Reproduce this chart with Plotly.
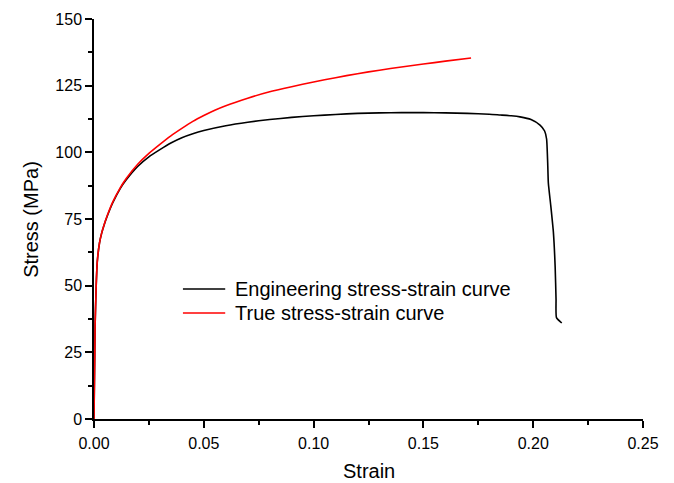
import plotly.graph_objects as go

# Engineering stress-strain curve
eng_strain = [0.0, 0.0005, 0.001, 0.0015, 0.0025, 0.0035, 0.0045, 0.006, 0.0085, 0.012, 0.0146,
              0.02, 0.025, 0.03, 0.035, 0.04, 0.045, 0.05,
              0.06, 0.07, 0.08, 0.09, 0.10, 0.11, 0.12, 0.13, 0.14, 0.15, 0.16, 0.17,
              0.18, 0.185, 0.19, 0.194, 0.199, 0.2031, 0.2052, 0.2061, 0.2066, 0.2069,
              0.2080, 0.2092, 0.2100, 0.2104, 0.2106, 0.2130]
eng_stress = [0.0, 35, 50, 59, 66, 69.7, 72.5, 76, 81, 86.5, 89.6,
              94.8, 98.3, 101, 103.5, 105.5, 107, 108.2,
              110, 111.3, 112.3, 113.1, 113.7, 114.2, 114.6, 114.8, 114.9, 114.9, 114.8, 114.6,
              114.3, 114.0, 113.7, 113.3, 112.3, 110.2, 108, 105, 96, 88.5,
              80, 70, 57, 45, 38, 36]

# True stress-strain curve
true_strain = [0.0, 0.0005, 0.001, 0.0015, 0.0025, 0.0035, 0.0045, 0.006, 0.0085, 0.012, 0.0146,
               0.02, 0.025, 0.03, 0.035, 0.04, 0.045, 0.05, 0.055,
               0.06, 0.07, 0.08, 0.09, 0.10, 0.11, 0.12, 0.13, 0.14, 0.15, 0.16, 0.1717]
true_stress = [0.0, 35, 50, 59, 66, 69.8, 72.6, 76.2, 81.3, 86.8, 90.1,
               95.6, 99.6, 103, 106.2, 109, 111.6, 113.8, 115.8,
               117.5, 120.3, 122.7, 124.6, 126.4, 128, 129.5, 130.8, 132, 133.1, 134.2, 135.4]

x_ticks = [0.0, 0.05, 0.10, 0.15, 0.20, 0.25]
y_ticks = [0, 25, 50, 75, 100, 125, 150]

legend_names = ["Engineering stress-strain curve", "True stress-strain curve"]
legend_colors = ["black", "#ff0000"]

FONT = "Liberation Sans, Arial, sans-serif"

fig = go.Figure()
fig.add_trace(go.Scatter(x=eng_strain, y=eng_stress, mode="lines",
                         name=legend_names[0], showlegend=False,
                         line=dict(color=legend_colors[0], width=1.6, shape="spline", smoothing=0.5)))
fig.add_trace(go.Scatter(x=true_strain, y=true_stress, mode="lines",
                         name=legend_names[1], showlegend=False,
                         line=dict(color=legend_colors[1], width=1.6, shape="spline", smoothing=0.5)))

# Legend drawn inside the plot (paper coordinates)
leg_x0, leg_x1, leg_tx = 0.162, 0.239, 0.253
leg_rows = [0.325, 0.265]
for name, color, yy in zip(legend_names, legend_colors, leg_rows):
    fig.add_shape(type="line", xref="paper", yref="paper", x0=leg_x0, x1=leg_x1, y0=yy, y1=yy,
                  line=dict(color=color, width=1.6))
    fig.add_annotation(xref="paper", yref="paper", x=leg_tx, y=yy, text=name, showarrow=False,
                       xanchor="left", yanchor="middle",
                       font=dict(family=FONT, size=20, color="black"))

# Axis titles placed in the margins
fig.add_annotation(xref="paper", yref="paper", x=0.5, y=-0.13, text="Strain", showarrow=False,
                   xanchor="center", yanchor="middle", font=dict(family=FONT, size=20, color="black"))
fig.add_annotation(xref="paper", yref="paper", x=-0.115, y=0.5, text="Stress (MPa)", showarrow=False,
                   textangle=-90, xanchor="center", yanchor="middle",
                   font=dict(family=FONT, size=20, color="black"))

axis_common = dict(showgrid=False, zeroline=False, showline=True, linecolor="black",
                   linewidth=1.5, ticks="outside", ticklen=7, tickwidth=1.5,
                   tickcolor="black", tickfont=dict(family=FONT, size=16, color="black"),
                   mirror=False, automargin=False)

fig.update_layout(
    width=674, height=483,
    margin=dict(l=94, r=31, t=19, b=64),
    paper_bgcolor="white", plot_bgcolor="white",
    font=dict(family=FONT, color="black"),
    xaxis=dict(range=[0, 0.25], tickvals=x_ticks, tickformat=".2f", ticklabelstandoff=2,
               minor=dict(ticks="outside", ticklen=4, tickwidth=1.5, tickcolor="black", dtick=0.025),
               **axis_common),
    yaxis=dict(range=[0, 150], tickvals=y_ticks,
               minor=dict(ticks="outside", ticklen=4, tickwidth=1.5, tickcolor="black", dtick=12.5),
               **axis_common),
    showlegend=False,
)

fig.write_html("out.html", config={"displayModeBar": False},
               post_script="document.body.style.margin='0px';")
